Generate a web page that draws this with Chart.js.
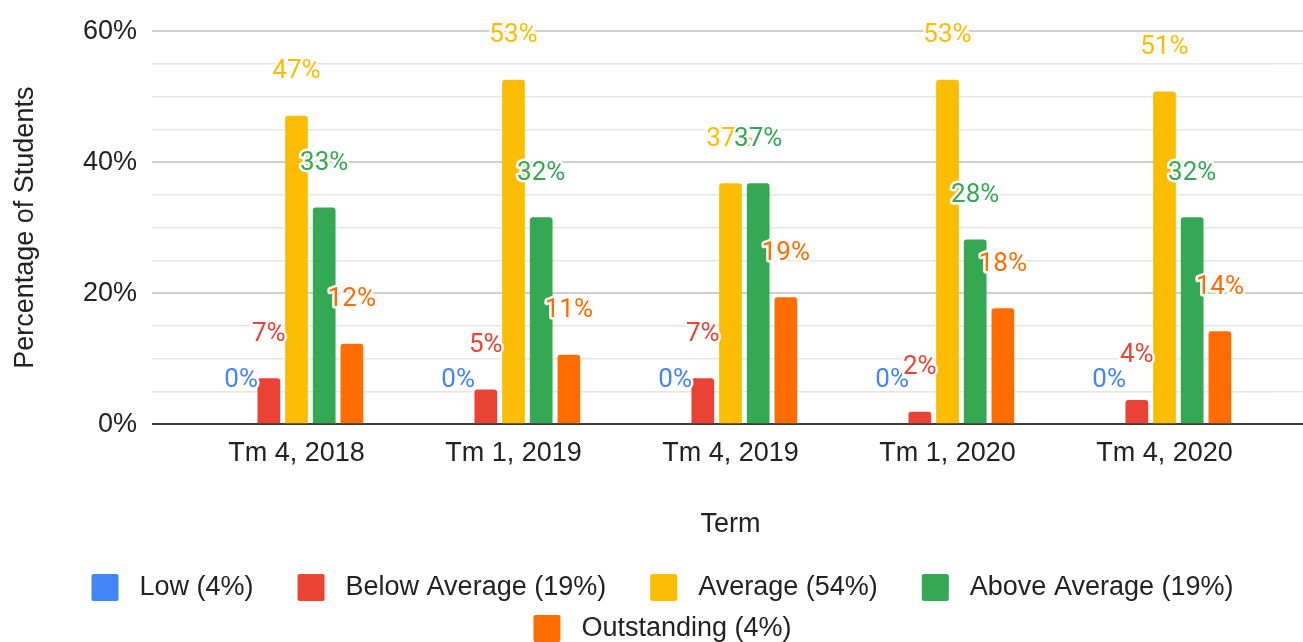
<!DOCTYPE html>
<html>
<head>
<meta charset="utf-8">
<script src="https://cdn.jsdelivr.net/npm/chart.js@4.4.1/dist/chart.umd.min.js"></script>
<style>
  html, body { margin: 0; padding: 0; background: #fff; }
  #wrap { width: 1303px; height: 642px; position: relative; }
</style>
</head>
<body>
<div id="wrap"><canvas id="termChart"></canvas></div>
<script>
const terms = ['Tm 4, 2018', 'Tm 1, 2019', 'Tm 4, 2019', 'Tm 1, 2020', 'Tm 4, 2020'];
const seriesNames = ['Low (4%)', 'Below Average (19%)', 'Average (54%)', 'Above Average (19%)', 'Outstanding (4%)'];
const low = [0, 0, 0, 0, 0];
const belowAverage = [7.0, 5.3, 7.0, 1.9, 3.7];
const average = [47.1, 52.6, 36.8, 52.6, 50.8];
const aboveAverage = [33.1, 31.6, 36.8, 28.2, 31.6];
const outstanding = [12.3, 10.6, 19.4, 17.7, 14.2];
const yTicks = [0, 20, 40, 60];

const colors = ['#4285F4', '#EA4335', '#FBBC04', '#34A853', '#FF6D01'];
const axisFont = { family: "Arial, 'Liberation Sans', sans-serif", size: 27 };
const textColor = '#222222';

// value labels above each bar, with a white halo
const barLabels = {
    id: 'barLabels',
    afterDatasetsDraw(chart) {
        const ctx = chart.ctx;
        ctx.save();
        ctx.font = "26px Roboto, 'Noto Sans', sans-serif";
        ctx.textAlign = 'center';
        ctx.textBaseline = 'middle';
        ctx.lineJoin = 'round';
        chart.data.datasets.forEach((ds, i) => {
            chart.getDatasetMeta(i).data.forEach((bar, j) => {
                const text = Math.round(ds.data[j]) + '%';
                const y = bar.y - 44;
                ctx.strokeStyle = '#ffffff';
                ctx.lineWidth = 5;
                ctx.strokeText(text, bar.x, y);
                ctx.fillStyle = ds.backgroundColor;
                ctx.fillText(text, bar.x, y);
            });
        });
        ctx.restore();
    }
};

const gridColor = c => {
    const v = c.tick ? c.tick.value : 1;
    if (v === 0) return '#3c3c3c';
    return yTicks.includes(v) ? '#cfcfcf' : '#e6e6e6';
};
const gridWidth = c => {
    const v = c.tick ? c.tick.value : 1;
    if (v === 0) return 2;
    return yTicks.includes(v) ? 2 : 1.5;
};

const makeDataset = (label, data, color) => ({
    label: label,
    data: data,
    backgroundColor: color,
    borderWidth: 0,
    borderRadius: 3,
    categoryPercentage: 0.638,
    barPercentage: 0.82
});

new Chart(document.getElementById('termChart').getContext('2d'), {
    type: 'bar',
    data: {
        labels: terms,
        datasets: [
            makeDataset(seriesNames[0], low, colors[0]),
            makeDataset(seriesNames[1], belowAverage, colors[1]),
            makeDataset(seriesNames[2], average, colors[2]),
            makeDataset(seriesNames[3], aboveAverage, colors[3]),
            makeDataset(seriesNames[4], outstanding, colors[4])
        ]
    },
    options: {
        responsive: true,
        maintainAspectRatio: false,
        animation: false,
        // left padding pushes the centred legend right; the y axis width makes up for it
        layout: { padding: { top: 28, left: 52, right: 0, bottom: 0 } },
        plugins: {
            tooltip: { enabled: false },
            legend: {
                position: 'bottom',
                maxHeight: 82,
                labels: {
                    font: axisFont,
                    color: textColor,
                    boxWidth: 27,
                    boxHeight: 27,
                    padding: 14,
                    useBorderRadius: true,
                    borderRadius: 2,
                    generateLabels: chart =>
                        Chart.defaults.plugins.legend.labels.generateLabels(chart)
                            .map(l => ({ ...l, text: ' ' + l.text + '    ' }))
                }
            }
        },
        scales: {
            x: {
                grid: { display: false, drawTicks: false },
                border: { display: false },
                ticks: { font: axisFont, color: textColor, padding: 13, maxRotation: 0 },
                title: {
                    display: true,
                    text: 'Term',
                    font: axisFont,
                    color: textColor,
                    padding: { top: 26, bottom: 19 }
                }
            },
            y: {
                position: 'left',
                min: 0,
                max: 60,
                afterFit: s => { s.width = 136; },
                grid: { color: gridColor, lineWidth: gridWidth, tickLength: 36 },
                border: { display: false },
                ticks: {
                    stepSize: 5,
                    autoSkip: false,
                    padding: 15,
                    font: axisFont,
                    color: textColor,
                    callback: v => yTicks.includes(v) ? v + '%' : ''
                },
                title: {
                    display: true,
                    text: 'Percentage of Students',
                    font: axisFont,
                    color: textColor,
                    padding: { top: -43, bottom: 0 }
                }
            },
            y2: {
                position: 'right',
                min: 0,
                max: 60,
                afterFit: s => { s.width = 30; },
                grid: { color: gridColor, lineWidth: gridWidth, tickLength: 30, drawOnChartArea: false },
                border: { display: false },
                ticks: { stepSize: 5, autoSkip: false, display: false }
            }
        }
    },
    plugins: [barLabels]
});
</script>
</body>
</html>
